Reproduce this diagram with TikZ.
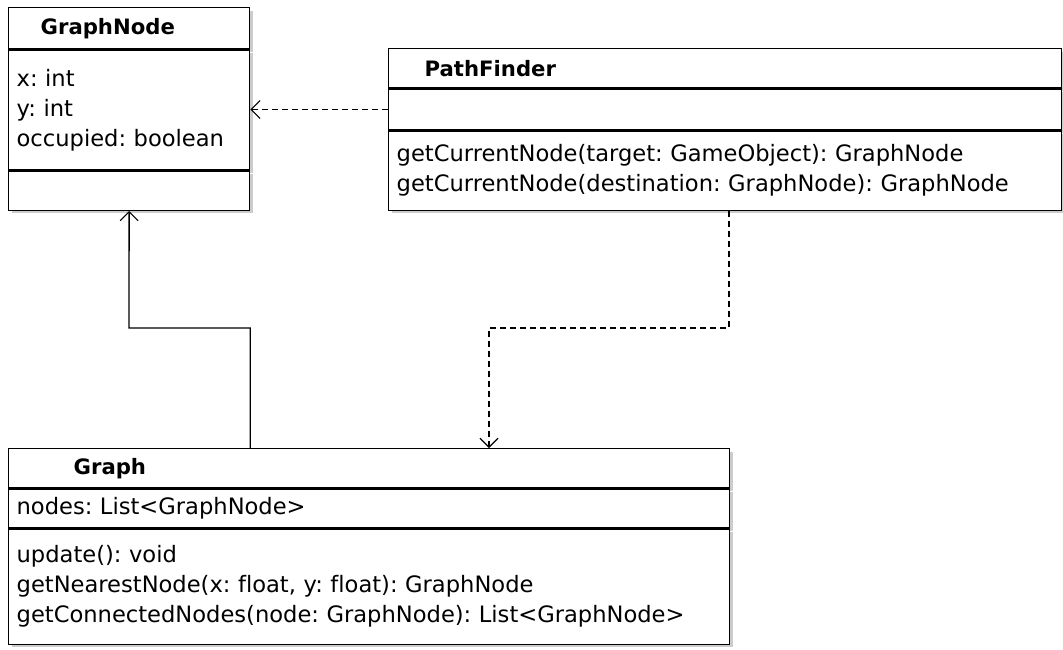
\documentclass[tikz,border=0pt]{standalone}
\usepackage{fontspec}
\setsansfont{DejaVu Sans}[Ligatures=NoCommon]
\usetikzlibrary{positioning,arrows.meta,shadows}
\frenchspacing

\begin{document}
\begin{tikzpicture}[
    x=1pt, y=-1pt,
    font=\sffamily\fontsize{22.6}{30}\selectfont,
    part/.style={rectangle, draw, line width=1.3pt, fill=white, inner ysep=0pt, align=left,
        drop shadow={shadow xshift=3pt, shadow yshift=-3pt, fill=black!20, opacity=1}},
    title/.style={part, font=\sffamily\bfseries\fontsize{21.2}{30}\selectfont},
    dep/.style={dashed, dash pattern=on 6pt off 4pt, line width=1.3pt, -{Straight Barb[length=9pt, width=18pt, line width=1.1pt]}},
    assoc/.style={line width=1.3pt, -{Straight Barb[length=9pt, width=18pt, line width=1.1pt]}}
]
    \useasboundingbox (0,0) rectangle (1063,649);

    % GraphNode
    \node[title, anchor=north west, inner xsep=32pt, text width=177pt, minimum height=41pt] (gnTitle) at (8,7) {GraphNode};
    \node[part, below=0pt of gnTitle, inner xsep=8pt, text width=225pt, minimum height=120pt] (gnAttr) {x: int\\y: int\\occupied: boolean};
    \node[part, below=0pt of gnAttr, inner xsep=8pt, text width=225pt, minimum height=39pt] (gnMeth) {};

    % PathFinder
    \node[title, anchor=north west, inner xsep=36pt, text width=601pt, minimum height=39pt] (pfTitle) at (388,48) {PathFinder};
    \node[part, below=0pt of pfTitle, inner xsep=8pt, text width=657pt, minimum height=41pt] (pfAttr) {};
    \node[part, below=0pt of pfAttr, inner xsep=8pt, text width=657pt, minimum height=79pt] (pfMeth) {getCurrentNode(target: GameObject): GraphNode\\getCurrentNode(destination: GraphNode): GraphNode};

    % Graph
    \node[title, anchor=north west, inner xsep=65pt, text width=591pt, minimum height=39pt] (gTitle) at (8,448) {Graph};
    \node[part, below=0pt of gTitle, inner xsep=8pt, text width=705pt, minimum height=39pt] (gAttr) {nodes: List<GraphNode>};
    \node[part, below=0pt of gAttr, inner xsep=8pt, text width=705pt, minimum height=115pt] (gMeth) {update(): void\\getNearestNode(x: float, y: float): GraphNode\\getConnectedNodes(node: GraphNode): List<GraphNode>};

    % bends
    \coordinate (jogA) at (729,328);
    \coordinate (jogB) at (489,328);
    \coordinate (jogC) at (129,328);

    \draw[dep] (pfAttr.west) -- (gnAttr.east |- pfAttr.west);
    \draw[dep] (pfMeth.south -| jogA) -- (jogA) -- (jogB) -- (gTitle.north -| jogB);
    \draw[assoc] (gTitle.north -| gnMeth.south east) |- (jogC) -- (gnMeth.south);
\end{tikzpicture}
\end{document}
